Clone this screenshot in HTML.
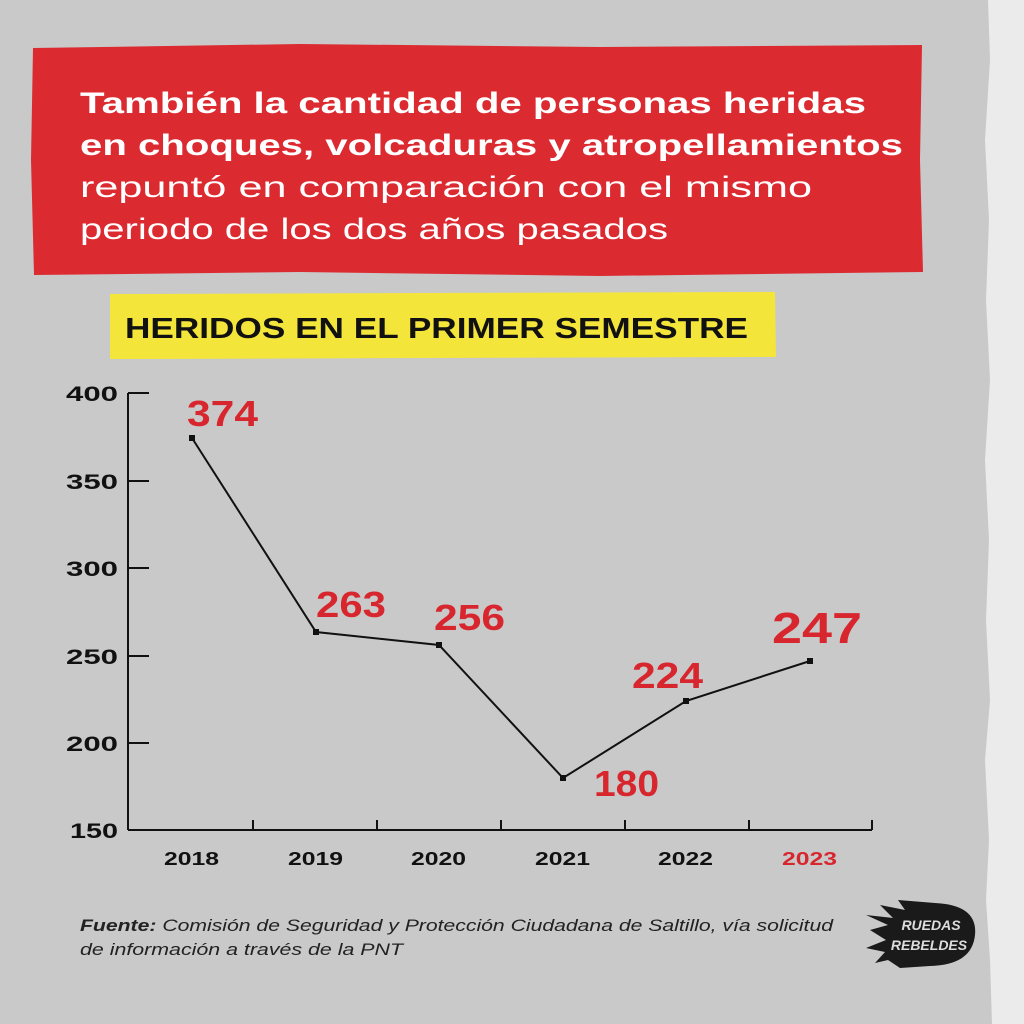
<!DOCTYPE html>
<html><head><meta charset="utf-8"><style>
body{margin:0;width:1024px;height:1024px;overflow:hidden;background:#c9c9c9;font-family:"Liberation Sans",sans-serif;}
.wrap{position:relative;width:1024px;height:1024px;}
</style></head><body><div class="wrap">
<svg width="1024" height="1024" style="position:absolute;left:0;top:0">
<rect x="0" y="0" width="1024" height="1024" fill="#c9c9c9"/>
<path d="M988,0 L1024,0 L1024,1024 L992,1024 L990,960 L986,900 L989,840 L985,760 L990,700 L986,620 L989,540 L985,460 L990,380 L986,300 L989,220 L985,140 L990,60 Z" fill="#ebebeb"/>
<path d="M33,48 L300,44 L600,47 L922,45 L920,160 L923,272 L600,276 L300,272 L34,275 L31,160 Z" fill="#dc2a31"/>
<path d="M110,294 L775,292 L776,357 L110,359 Z" fill="#f4e53a"/>
<g font-weight="bold" font-size="30" fill="#fff" lengthAdjust="spacingAndGlyphs">
<text x="80" y="113" textLength="786" lengthAdjust="spacingAndGlyphs">También la cantidad de personas heridas</text>
<text x="80" y="155" textLength="823" lengthAdjust="spacingAndGlyphs">en choques, volcaduras y atropellamientos</text>
</g>
<g font-size="30" fill="#fff">
<text x="80" y="197" textLength="732" lengthAdjust="spacingAndGlyphs">repuntó en comparación con el mismo</text>
<text x="80" y="239" textLength="588" lengthAdjust="spacingAndGlyphs">periodo de los dos años pasados</text>
</g>
<text x="125" y="338" font-weight="bold" font-size="29" fill="#111" textLength="623" lengthAdjust="spacingAndGlyphs">HERIDOS EN EL PRIMER SEMESTRE</text>
<g stroke="#111" stroke-width="2" fill="none">
<line x1="128" y1="393" x2="128" y2="830"/>
<line x1="128" y1="830" x2="872" y2="830"/>
<line x1="128" y1="393" x2="149" y2="393"/>
<line x1="128" y1="481" x2="149" y2="481"/>
<line x1="128" y1="568" x2="149" y2="568"/>
<line x1="128" y1="656" x2="149" y2="656"/>
<line x1="128" y1="743" x2="149" y2="743"/>
<line x1="253" y1="820" x2="253" y2="830"/>
<line x1="377" y1="820" x2="377" y2="830"/>
<line x1="501" y1="820" x2="501" y2="830"/>
<line x1="625" y1="820" x2="625" y2="830"/>
<line x1="749" y1="820" x2="749" y2="830"/>
<line x1="872" y1="820" x2="872" y2="830"/>
<polyline points="192,438 316,632 439,645 563,778 686,701 810,661"/>
</g>
<g fill="#111">
<rect x="189" y="435" width="6" height="6"/><rect x="313" y="629" width="6" height="6"/><rect x="436" y="642" width="6" height="6"/><rect x="560" y="775" width="6" height="6"/><rect x="683" y="698" width="6" height="6"/><rect x="807" y="658" width="6" height="6"/>
</g>
<g font-weight="bold" font-size="21" fill="#111">
<text x="66" y="401" textLength="52" lengthAdjust="spacingAndGlyphs">400</text><text x="66" y="489" textLength="52" lengthAdjust="spacingAndGlyphs">350</text><text x="66" y="576" textLength="52" lengthAdjust="spacingAndGlyphs">300</text><text x="66" y="664" textLength="52" lengthAdjust="spacingAndGlyphs">250</text><text x="66" y="751" textLength="52" lengthAdjust="spacingAndGlyphs">200</text><text x="70" y="838" textLength="48" lengthAdjust="spacingAndGlyphs">150</text>
</g>
<g font-weight="bold" font-size="18" fill="#111">
<text x="164" y="865" textLength="55" lengthAdjust="spacingAndGlyphs">2018</text><text x="288" y="865" textLength="55" lengthAdjust="spacingAndGlyphs">2019</text><text x="411" y="865" textLength="55" lengthAdjust="spacingAndGlyphs">2020</text><text x="535" y="865" textLength="55" lengthAdjust="spacingAndGlyphs">2021</text><text x="658" y="865" textLength="55" lengthAdjust="spacingAndGlyphs">2022</text><text x="782" y="865" fill="#d8262e" textLength="55" lengthAdjust="spacingAndGlyphs">2023</text>
</g>
<g font-weight="bold" font-size="36" fill="#d8262e">
<text x="187" y="426" textLength="71" lengthAdjust="spacingAndGlyphs">374</text><text x="316" y="617" textLength="70" lengthAdjust="spacingAndGlyphs">263</text><text x="434" y="630" textLength="71" lengthAdjust="spacingAndGlyphs">256</text><text x="594" y="796" textLength="65" lengthAdjust="spacingAndGlyphs">180</text><text x="632" y="688" textLength="71" lengthAdjust="spacingAndGlyphs">224</text><text x="772" y="643" font-size="44" textLength="90" lengthAdjust="spacingAndGlyphs">247</text>
</g>
<g font-style="italic" font-size="17" fill="#222">
<text x="80" y="931" textLength="753" lengthAdjust="spacingAndGlyphs"><tspan font-weight="bold">Fuente:</tspan> Comisión de Seguridad y Protección Ciudadana de Saltillo, vía solicitud</text>
<text x="80" y="955" textLength="323" lengthAdjust="spacingAndGlyphs">de información a través de la PNT</text>
</g>
<path d="M866,915 L893,918 L880,905 L905,910 L898,900 L935,903 Q978,905 975,935 Q972,965 930,966 L900,968 L888,960 L875,963 L885,952 L866,948 L886,940 L870,930 L888,925 Z" fill="#1a1a1a"/>
<g font-weight="bold" font-style="italic" font-size="14" fill="#ddd" text-anchor="middle">
<text x="931" y="930">RUEDAS</text><text x="929" y="950">REBELDES</text>
</g>
</svg>
</div></body></html>
